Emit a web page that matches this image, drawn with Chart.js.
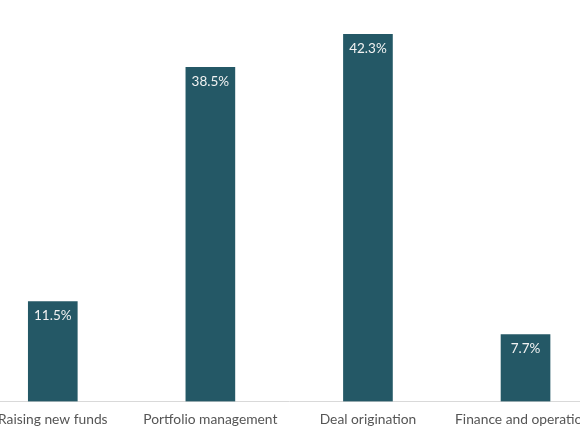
<!DOCTYPE html>
<html>
<head>
<meta charset="utf-8">
<script src="https://cdn.jsdelivr.net/npm/chart.js@4"></script>
<style>
  html, body { margin: 0; padding: 0; background: #ffffff; overflow: hidden; width: 580px; height: 435px; }
  #wrap { position: absolute; left: -26px; top: 0; width: 632px; height: 446px; }
</style>
</head>
<body>
<div id="wrap"><canvas id="c"></canvas></div>
<script>
const categories = ["Raising new funds", "Portfolio management", "Deal origination", "Finance and operations"];
const shares = [11.5, 38.5, 42.3, 7.7];
const valueLabels = ["11.5%", "38.5%", "42.3%", "7.7%"];

const insideLabels = {
  id: 'insideLabels',
  afterDatasetsDraw(chart) {
    const ctx = chart.ctx;
    const meta = chart.getDatasetMeta(0);
    ctx.save();
    ctx.fillStyle = '#f2f2f2';
    ctx.font = '13.5px Lato, sans-serif';
    ctx.textAlign = 'center';
    ctx.textBaseline = 'middle';
    meta.data.forEach((bar, i) => {
      ctx.fillText(valueLabels[i], bar.x, bar.y + 14);
    });
    ctx.restore();
  }
};

new Chart(document.getElementById('c'), {
  type: 'bar',
  data: {
    labels: categories,
    datasets: [{
      data: shares,
      backgroundColor: '#245866',
      borderWidth: 0,
      barThickness: 49
    }]
  },
  options: {
    responsive: true,
    maintainAspectRatio: false,
    animation: false,
    layout: { padding: { top: 11, bottom: 8, left: 0, right: 0 } },
    plugins: { legend: { display: false }, tooltip: { enabled: false } },
    scales: {
      x: {
        grid: { display: false, drawTicks: false },
        border: { display: true, color: '#d9d9d9', width: 1 },
        ticks: { color: '#555555', font: { family: 'Lato, sans-serif', size: 13.8 }, padding: 10, maxRotation: 0, autoSkip: false }
      },
      y: {
        display: false,
        min: 0,
        max: 45
      }
    }
  },
  plugins: [insideLabels]
});
</script>
</body>
</html>
